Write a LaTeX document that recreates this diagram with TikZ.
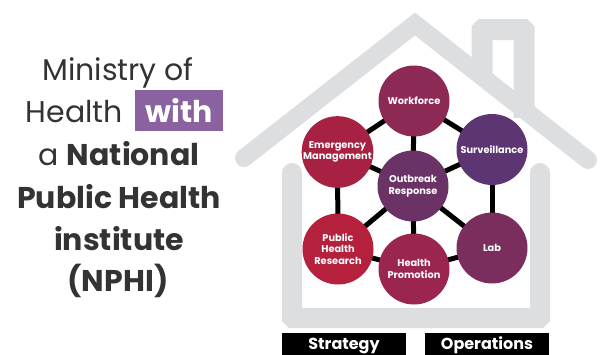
\documentclass[tikz,border=0pt]{standalone}
\usepackage{fontspec}
\setmainfont{Poppins}
\usetikzlibrary{backgrounds}
\definecolor{housegray}{RGB}{221,222,224}
\definecolor{txtgray}{RGB}{51,51,51}
\definecolor{withpurple}{RGB}{138,98,160}
\definecolor{cWork}{RGB}{140,42,85}
\definecolor{cEmer}{RGB}{166,33,66}
\definecolor{cSurv}{RGB}{93,53,115}
\definecolor{cOut}{RGB}{107,50,102}
\definecolor{cPHR}{RGB}{181,32,61}
\definecolor{cHP}{RGB}{154,37,80}
\definecolor{cLab}{RGB}{123,46,94}
\begin{document}
\begin{tikzpicture}[x=1pt,y=-1pt,
  housestroke/.style={draw=housegray,line width=20pt},
  hub/.style={circle,minimum size=71pt,inner sep=0pt,text=white,align=center,
    font=\fontsize{9.8}{11.8}\selectfont\bfseries},
  link/.style={line width=5pt,black},
  lefttxt/.style={anchor=base,text=txtgray,inner sep=0pt,font=\fontsize{30}{36}\selectfont},
  boxtxt/.style={anchor=base,text=white,inner sep=0pt,font=\fontsize{16}{19}\selectfont\bfseries}]
\clip (0,0) rectangle (602,354);
% circles
\node[hub,fill=cWork] (work) at (414,101) {Workforce};
\node[hub,fill=cEmer] (emer) at (337.5,152) {Emergency\\Management};
\node[hub,fill=cSurv] (surv) at (492,149.5) {Surveillance};
\node[hub,fill=cOut] (out) at (413,186) {Outbreak\\Response};
\node[hub,fill=cPHR] (phr) at (338,249) {Public\\Health\\Research};
\node[hub,fill=cHP] (hp) at (414,269) {Health\\Promotion};
\node[hub,fill=cLab] (lab) at (492,248) {Lab};
\begin{scope}[on background layer]
% house
\draw[housestroke,line width=18pt,line cap=round,line join=miter] (244,158) -- (415,24) -- (588,160);
\draw[housestroke,line width=21pt,line cap=butt,rounded corners=1pt] (482,78) -- (482,29.5) -- (524,29.5) -- (524,118);
\draw[housestroke,line cap=round,rounded corners=1pt] (292,173) -- (292,318) -- (540,318) -- (540,173);
% links
\foreach \a/\b in {work/emer,work/surv,work/out,emer/out,surv/out,emer/phr,surv/lab,phr/out,phr/hp,out/hp,out/lab,hp/lab}
  \draw[link] (\a.center) -- (\b.center);
\end{scope}
% bottom boxes
\fill[black] (282,333) rectangle (406,360);
\fill[black] (425,333) rectangle (549,360);
\node[boxtxt] (strat) at (344,349.5) {Strategy};
\node[boxtxt] (ops) at (487,349.5) {Operations};
% left text
\node[lefttxt] (l1) at (118,80) {Ministry of};
\node[lefttxt,anchor=base east] (l2) at (123,122) {Health};
\node[fill=withpurple,minimum width=88pt,minimum height=41pt,inner sep=0pt,text=white,
  font=\fontsize{30}{36}\selectfont\bfseries] (with) at (179,110.5) {with};
\node[lefttxt] (l3) at (119,165) {a \textbf{National}};
\node[lefttxt,font=\fontsize{30}{36}\selectfont\bfseries] (l4) at (119,208) {Public Health};
\node[lefttxt,font=\fontsize{30}{36}\selectfont\bfseries] (l5) at (119,250) {institute};
\node[lefttxt,font=\fontsize{30}{36}\selectfont\bfseries] (l6) at (118,291) {(NPHI)};
\end{tikzpicture}
\end{document}
